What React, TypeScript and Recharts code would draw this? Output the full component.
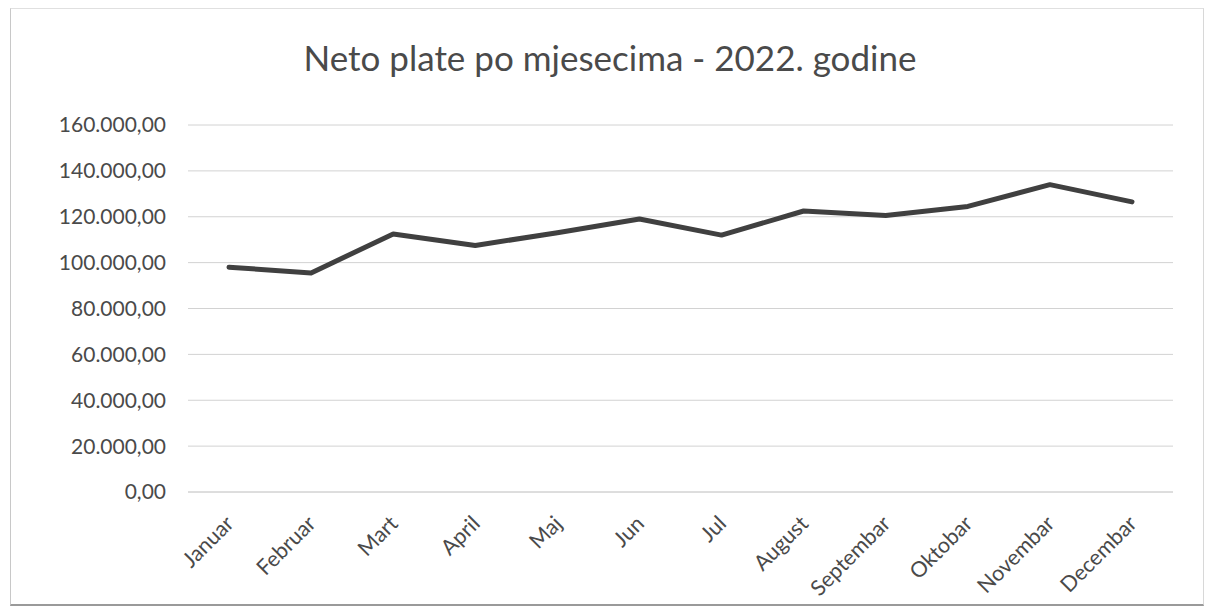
import React from 'react';
import { LineChart, Line, XAxis, YAxis, CartesianGrid } from 'recharts';

const months = ['Januar', 'Februar', 'Mart', 'April', 'Maj', 'Jun', 'Jul', 'August', 'Septembar', 'Oktobar', 'Novembar', 'Decembar'];
const netSalaries = [98000, 95500, 112500, 107500, 113000, 119000, 112000, 122500, 120500, 124500, 134000, 126500];
const yTicks = [0, 20000, 40000, 60000, 80000, 100000, 120000, 140000, 160000];

const title = 'Neto plate po mjesecima - 2022. godine';

const data = months.map((m, i) => ({ month: m, value: netSalaries[i] }));

const FONT = 'Lato, "Open Sans", sans-serif';
const TEXT_COLOR = '#4a4a4a';

// 160000 -> "160.000,00"
const formatNumber = (v: number) => {
    const whole = Math.round(v).toString().replace(/\B(?=(\d{3})+(?!\d))/g, '.');
    return `${whole},00`;
};

const MonthTick = (props: any) => {
    const { x, y, payload } = props;
    return (
        <g transform={`translate(${x + 6},${y + 25})`}>
            <text
                transform="rotate(-45)"
                textAnchor="end"
                fill={TEXT_COLOR}
                fontSize={21.5}
                fontFamily={FONT}
            >
                {payload.value}
            </text>
        </g>
    );
};

const App: React.FC = () => {
    return (
        <div style={{ position: 'absolute', left: 0, top: 0, width: 1210, height: 614, background: '#fff' }}>
            <div
                style={{
                    position: 'absolute',
                    left: 10,
                    top: 8,
                    width: 1192,
                    height: 595,
                    borderLeft: '1px solid #c8c8c8',
                    borderTop: '1px solid #e0e0e0',
                    borderRight: '1px solid #d8d8d8',
                    borderBottom: '2px solid #9a9a9a',
                }}
            />
            <div
                style={{
                    position: 'absolute',
                    left: 0,
                    top: 37,
                    width: 1220,
                    textAlign: 'center',
                    fontFamily: FONT,
                    fontSize: 35,
                    color: TEXT_COLOR,
                    lineHeight: '40px',
                }}
            >
                {title}
            </div>
            <LineChart
                width={1210}
                height={614}
                data={data}
                margin={{ top: 125, right: 37, left: 0, bottom: 22 }}
                style={{ position: 'absolute', left: 0, top: 0 }}
            >
                <CartesianGrid vertical={false} stroke="#d2d2d2" strokeWidth={1} />
                <XAxis
                    dataKey="month"
                    height={100}
                    padding={{ left: 41, right: 41 }}
                    tickLine={false}
                    axisLine={{ stroke: '#d2d2d2' }}
                    interval={0}
                    tick={<MonthTick />}
                />
                <YAxis
                    width={188}
                    domain={[0, 160000]}
                    ticks={yTicks}
                    tickFormatter={formatNumber}
                    axisLine={false}
                    tickLine={false}
                    tickMargin={16}
                    tick={{ fill: TEXT_COLOR, fontSize: 21, fontFamily: FONT }}
                />
                <Line
                    type="linear"
                    dataKey="value"
                    stroke="#404040"
                    strokeWidth={5}
                    strokeLinejoin="round"
                    strokeLinecap="round"
                    dot={false}
                    activeDot={false}
                    isAnimationActive={false}
                />
            </LineChart>
        </div>
    );
};

export default App;
